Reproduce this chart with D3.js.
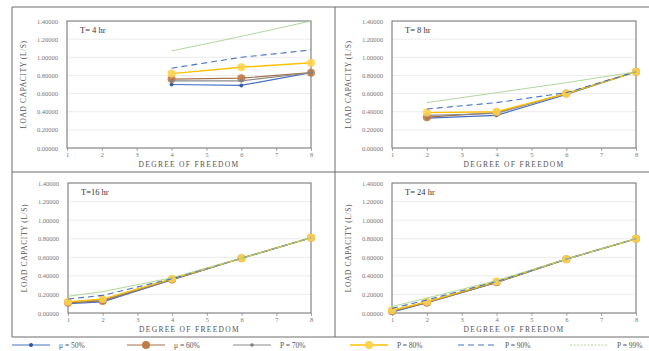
<!DOCTYPE html>
<html>
<head>
<meta charset="utf-8">
<script src="https://cdn.jsdelivr.net/npm/d3@7"></script>
<style>
  body { margin: 0; background: #fff; }
  svg { display: block; font-family: "Liberation Serif", "DejaVu Serif", serif; }
</style>
</head>
<body>
<div id="chart"></div>
<script>
// categories on the x axis (degree of freedom)
const xTicks = [1, 2, 3, 4, 5, 6, 7, 8];
const yTicks = [0, 0.2, 0.4, 0.6, 0.8, 1.0, 1.2, 1.4];

const seriesNames = ["\u03bc = 50%", "\u03bc = 60%", "P = 70%", "P = 80%", "P = 90%", "P = 99%"];

// T = 4 hr
const dof4 = [4, 6, 8];
const t4_mu50 = [0.70, 0.69, 0.83];
const t4_mu60 = [0.76, 0.77, 0.83];
const t4_p70 = [0.74, 0.74, 0.83];
const t4_p80 = [0.82, 0.89, 0.94];
const t4_p90 = [0.88, 1.00, 1.08];
const t4_p99 = [1.07, 1.23, 1.40];

// T = 8 hr
const dof8 = [2, 4, 6, 8];
const t8_mu50 = [0.33, 0.36, 0.59, 0.84];
const t8_mu60 = [0.34, 0.39, 0.60, 0.84];
const t8_p70 = [0.36, 0.38, 0.60, 0.84];
const t8_p80 = [0.39, 0.40, 0.60, 0.84];
const t8_p90 = [0.43, 0.50, 0.61, 0.84];
const t8_p99 = [0.50, 0.61, 0.72, 0.84];

// T = 16 hr
const dof16 = [1, 2, 4, 6, 8];
const t16_mu50 = [0.10, 0.12, 0.36, 0.59, 0.81];
const t16_mu60 = [0.11, 0.13, 0.36, 0.59, 0.81];
const t16_p70 = [0.12, 0.14, 0.36, 0.59, 0.81];
const t16_p80 = [0.12, 0.15, 0.37, 0.59, 0.81];
const t16_p90 = [0.15, 0.19, 0.37, 0.59, 0.81];
const t16_p99 = [0.18, 0.23, 0.38, 0.59, 0.81];

// T = 24 hr
const dof24 = [1, 2, 4, 6, 8];
const t24_mu50 = [0.01, 0.11, 0.33, 0.58, 0.80];
const t24_mu60 = [0.02, 0.11, 0.33, 0.58, 0.80];
const t24_p70 = [0.02, 0.12, 0.33, 0.58, 0.80];
const t24_p80 = [0.03, 0.12, 0.34, 0.58, 0.80];
const t24_p90 = [0.05, 0.14, 0.34, 0.58, 0.80];
const t24_p99 = [0.07, 0.16, 0.35, 0.58, 0.80];

const panels = [
  { title: "T= 4 hr", x: dof4, ys: [t4_mu50, t4_mu60, t4_p70, t4_p80, t4_p90, t4_p99],
    box: { l: 67, r: 311, t: 21, b: 148 } },
  { title: "T= 8 hr", x: dof8, ys: [t8_mu50, t8_mu60, t8_p70, t8_p80, t8_p90, t8_p99],
    box: { l: 392, r: 636, t: 21, b: 148 } },
  { title: "T=16 hr", x: dof16, ys: [t16_mu50, t16_mu60, t16_p70, t16_p80, t16_p90, t16_p99],
    box: { l: 68, r: 311, t: 183, b: 313 } },
  { title: "T= 24 hr", x: dof24, ys: [t24_mu50, t24_mu60, t24_p70, t24_p80, t24_p90, t24_p99],
    box: { l: 392, r: 636, t: 183, b: 313 } }
];

// look of each series
const styles = [
  { color: "#4472c4", width: 1.2, dash: null, r: 2, fill: "#2f5597" },
  { color: "#a5714a", width: 1.2, dash: null, r: 4, fill: "#c07a45" },
  { color: "#8c8c8c", width: 1.1, dash: null, r: 1.8, fill: "#7f7f7f" },
  { color: "#ffc000", width: 1.4, dash: null, r: 4, fill: "#ffd24d" },
  { color: "#4472c4", width: 1.1, dash: "6,4", r: 0, fill: null },
  { color: "#a9d18e", width: 0.9, dash: null, r: 0, fill: null }
];

const W = 649, H = 351;
const svg = d3.select("#chart").append("svg")
  .attr("width", W).attr("height", H);

// frame lines between the panels
const frame = [[12, 7, 649, 7], [12, 7, 12, 337], [335, 7, 335, 337],
               [12, 172, 649, 172], [12, 337, 649, 337]];
svg.selectAll("line.frame").data(frame).enter().append("line")
  .attr("class", "frame")
  .attr("x1", d => d[0]).attr("y1", d => d[1])
  .attr("x2", d => d[2]).attr("y2", d => d[3])
  .attr("stroke", "#6d6d6d").attr("stroke-width", 1);

panels.forEach(p => {
  const b = p.box;
  const x = d3.scaleLinear().domain([1, 8]).range([b.l, b.r]);
  const y = d3.scaleLinear().domain([0, 1.4]).range([b.b, b.t]);
  const g = svg.append("g");

  // gridlines
  g.selectAll("line.grid").data(yTicks.slice(1, -1)).enter().append("line")
    .attr("x1", b.l).attr("x2", b.r)
    .attr("y1", d => y(d)).attr("y2", d => y(d))
    .attr("stroke", "#e6e6e6").attr("stroke-width", 0.8);

  // axes
  const ya = g.append("g").attr("transform", "translate(" + b.l + ",0)")
    .call(d3.axisLeft(y).tickValues(yTicks).tickFormat(d3.format(".5f")).tickSize(0).tickPadding(9));
  const xa = g.append("g").attr("transform", "translate(0," + b.b + ")")
    .call(d3.axisBottom(x).tickValues(xTicks).tickFormat(d3.format("d")).tickSize(3).tickPadding(1));
  [ya, xa].forEach(a => {
    a.select(".domain").remove();
    a.selectAll("text").attr("font-size", 6.5).attr("fill", "#777")
      .attr("font-family", "Liberation Serif, serif");
    a.selectAll("line").attr("stroke", "#aaa");
  });

  // plot box
  g.append("rect")
    .attr("x", b.l).attr("y", b.t)
    .attr("width", b.r - b.l).attr("height", b.b - b.t)
    .attr("fill", "none").attr("stroke", "#6d6d6d").attr("stroke-width", 1);

  // titles
  g.append("text").attr("x", b.l + 13).attr("y", b.t + 12)
    .attr("font-size", 8.5).attr("fill", "#333").text(p.title);
  g.append("text")
    .attr("x", (b.l + b.r) / 2).attr("y", b.b + 19)
    .attr("text-anchor", "middle").attr("font-size", 7.5).attr("fill", "#555")
    .attr("letter-spacing", 1.3).text("DEGREE OF FREEDOM");
  g.append("text")
    .attr("transform", "translate(" + (b.l - 41) + "," + ((b.t + b.b) / 2) + ") rotate(-90)")
    .attr("text-anchor", "middle").attr("font-size", 7.5).attr("fill", "#555")
    .attr("letter-spacing", 0.6).text("LOAD CAPACITY (L/S)");

  // series
  p.ys.forEach((vals, i) => {
    const s = styles[i];
    const pts = vals.map((v, k) => [p.x[k], v]);
    const line = d3.line().x(d => x(d[0])).y(d => y(d[1]));
    g.append("path").datum(pts)
      .attr("d", line)
      .attr("fill", "none")
      .attr("stroke", s.color)
      .attr("stroke-width", s.width)
      .attr("stroke-dasharray", s.dash);
    if (s.r > 0) {
      g.selectAll(null).data(pts).enter().append("circle")
        .attr("cx", d => x(d[0])).attr("cy", d => y(d[1]))
        .attr("r", s.r).attr("fill", s.fill).attr("opacity", 0.9);
    }
  });
});

// legend
const legendX = [12, 127, 233, 350, 458, 570];
const lg = svg.append("g").attr("transform", "translate(0,345)");
seriesNames.forEach((name, i) => {
  const s = styles[i];
  const x0 = legendX[i];
  const item = lg.append("g").attr("transform", "translate(" + x0 + ",0)");
  item.append("line").attr("x1", 0).attr("x2", 38).attr("y1", 0).attr("y2", 0)
    .attr("stroke", s.color).attr("stroke-width", s.width)
    .attr("stroke-dasharray", i === 5 ? "2,1.5" : s.dash);
  if (s.r > 0) {
    item.append("circle").attr("cx", 19).attr("cy", 0).attr("r", s.r)
      .attr("fill", s.fill);
  }
  item.append("text").attr("x", 47).attr("y", 2.5)
    .attr("font-size", 7.5).attr("fill", "#555").text(name);
});
</script>
</body>
</html>
